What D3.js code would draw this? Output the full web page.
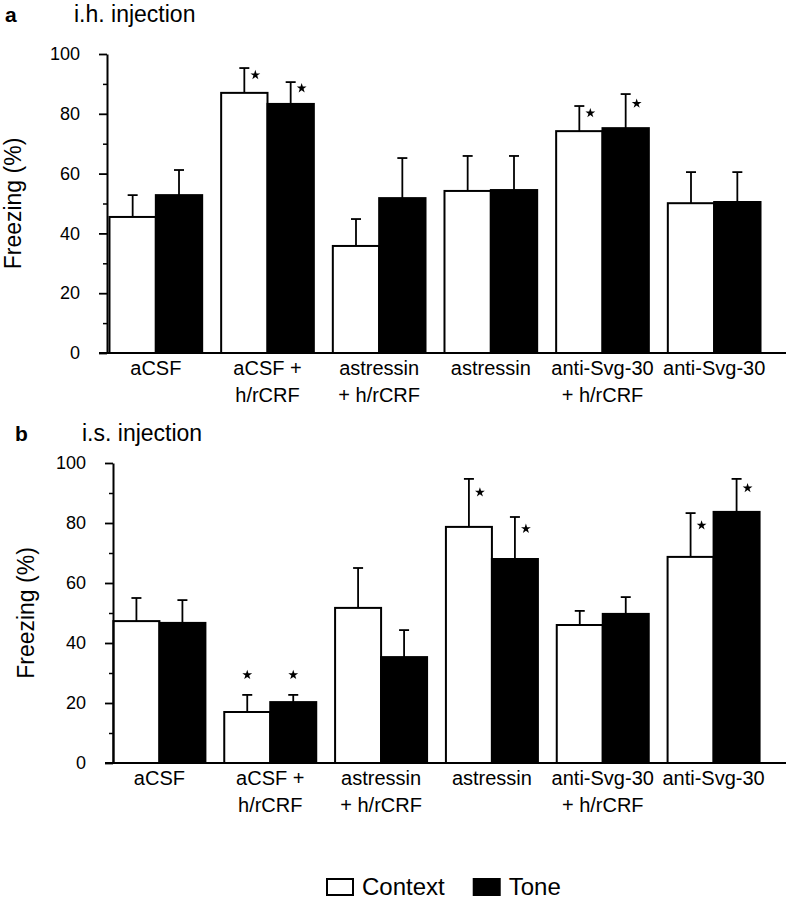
<!DOCTYPE html>
<html>
<head>
<meta charset="utf-8">
<script src="https://cdn.jsdelivr.net/npm/d3@7"></script>
<style>
  body { margin: 0; background: #fff; }
  text { font-family: "Liberation Sans", Arial, Helvetica, sans-serif; fill: #000; }
</style>
</head>
<body>
<svg id="fig" width="788" height="899"></svg>
<script>

// categories (line breaks as in the figure)
var categories = [ "aCSF", "aCSF +\nh/rCRF", "astressin\n+ h/rCRF", "astressin", "anti-Svg-30\n+ h/rCRF", "anti-Svg-30" ];
var seriesNames = [ "Context", "Tone" ];
var yTicks = [ 0, 20, 40, 60, 80, 100 ];
var yMinorTicks = [ 10, 30, 50, 70, 90 ];

// panel a : i.h. injection
var contextA    = [ 45.5, 87.0, 35.8, 54.2, 74.2, 50.1 ];
var contextErrA = [  7.3,  8.3,  9.0, 11.7,  8.4, 10.4 ];
var toneA       = [ 52.8, 83.3, 51.8, 54.5, 75.2, 50.5 ];
var toneErrA    = [  8.4,  7.3, 13.4, 11.4, 11.4, 10.0 ];
var sigContextA = [ 0, 1, 0, 0, 1, 0 ];
var sigToneA    = [ 0, 1, 0, 0, 1, 0 ];

// panel b : i.s. injection
var contextB    = [ 47.3, 17.0, 51.7, 78.7, 46.0, 68.7 ];
var contextErrB = [  7.7,  5.7, 13.3, 16.0,  4.7, 14.6 ];
var toneB       = [ 46.7, 20.3, 35.3, 68.0, 49.7, 83.7 ];
var toneErrB    = [  7.6,  2.4,  9.0, 14.0,  5.6, 11.0 ];
var sigContextB = [ 0, 1, 0, 1, 0, 1 ];
var sigToneB    = [ 0, 1, 0, 1, 0, 1 ];

var svg = d3.select( "#fig" );
var W = 788;
var fills = { Context : "#fff", Tone : "#000" };

function drawPanel( p ) {
  var g = svg.append( "g" );

  var x = d3.scaleBand().domain( categories )
    .range( [ p.left, p.right ] ).paddingInner( 0.17 ).paddingOuter( 0.085 );
  var xs = d3.scaleBand().domain( seriesNames ).range( [ 0, x.bandwidth() ] );
  var y = d3.scaleLinear().domain( [ 0, 100 ] ).range( [ p.bottom, p.top ] );

  // rows: one per bar
  var rows = [];
  categories.forEach( function( c, i ) {
    rows.push( { cat : c, s : "Context", v : p.context[ i ], e : p.contextErr[ i ], sig : p.sigContext[ i ] } );
    rows.push( { cat : c, s : "Tone", v : p.tone[ i ], e : p.toneErr[ i ], sig : p.sigTone[ i ] } );
  } );
  function cx( d ) { return x( d.cat ) + xs( d.s ) + xs.bandwidth() / 2; }

  // error bars (upper only)
  var eb = g.append( "g" ).attr( "stroke", "#000" ).attr( "stroke-width", 1.8 );
  eb.selectAll( "line.v" ).data( rows ).join( "line" ).attr( "class", "v" )
    .attr( "x1", cx ).attr( "x2", cx )
    .attr( "y1", function( d ) { return y( d.v ); } )
    .attr( "y2", function( d ) { return y( d.v + d.e ); } );
  eb.selectAll( "line.c" ).data( rows ).join( "line" ).attr( "class", "c" )
    .attr( "x1", function( d ) { return cx( d ) - 5; } )
    .attr( "x2", function( d ) { return cx( d ) + 5; } )
    .attr( "y1", function( d ) { return y( d.v + d.e ); } )
    .attr( "y2", function( d ) { return y( d.v + d.e ); } );

  // bars
  g.append( "g" ).selectAll( "rect" ).data( rows ).join( "rect" )
    .attr( "x", function( d ) { return x( d.cat ) + xs( d.s ); } )
    .attr( "y", function( d ) { return y( d.v ); } )
    .attr( "width", xs.bandwidth() )
    .attr( "height", function( d ) { return y( 0 ) - y( d.v ); } )
    .attr( "fill", function( d ) { return fills[ d.s ]; } )
    .attr( "stroke", "#000" ).attr( "stroke-width", 2 );

  // significance stars
  var star = d3.symbol( d3.symbolStar ).size( 30 );
  g.append( "g" ).selectAll( "path" ).data( rows.filter( function( d ) { return d.sig; } ) ).join( "path" )
    .attr( "d", star )
    .attr( "fill", "#000" )
    .attr( "transform", function( d ) {
      var top = y( d.v + d.e );
      var len = y( d.v ) - top;
      if( d.e < 6.5 ) {
        return "translate(" + cx( d ) + "," + ( top - 20 ) + ")";
      }
      return "translate(" + ( cx( d ) + 11 ) + "," + ( top + 0.28 * len ) + ")";
    } );

  // y axis
  var ax = g.append( "g" ).attr( "transform", "translate(" + p.axisX + ",0)" )
    .call( d3.axisLeft( y ).tickValues( yTicks ).tickSize( 8 ).tickSizeOuter( 0 ).tickPadding( 19 ) );
  ax.select( ".domain" ).attr( "stroke-width", 2 );
  ax.selectAll( ".tick line" ).attr( "stroke-width", 1.8 );
  ax.selectAll( ".tick text" ).attr( "font-size", 18 ).attr( "font-family", null );
  var minor = g.append( "g" ).attr( "transform", "translate(" + p.axisX + ",0)" )
    .call( d3.axisLeft( y ).tickValues( yMinorTicks ).tickSize( 4 ).tickFormat( "" ) );
  minor.select( ".domain" ).remove();
  minor.selectAll( ".tick line" ).attr( "stroke-width", 1.5 );

  // baseline
  g.append( "line" )
    .attr( "x1", p.axisX - 8 ).attr( "x2", W - 2 )
    .attr( "y1", y( 0 ) ).attr( "y2", y( 0 ) )
    .attr( "stroke", "#000" ).attr( "stroke-width", 2 );

  // category labels
  var lab = g.append( "g" ).selectAll( "text" ).data( categories ).join( "text" )
    .attr( "text-anchor", "middle" ).attr( "font-size", 20 )
    .attr( "y", y( 0 ) + 22 );
  lab.selectAll( "tspan" ).data( function( c ) { return c.split( "\n" ); } ).join( "tspan" )
    .attr( "x", function() { var c = d3.select( this.parentNode ).datum(); return x( c ) + x.bandwidth() / 2; } )
    .attr( "dy", function( d, i ) { return i == 0 ? 0 : 27; } )
    .text( function( d ) { return d; } );

  // y label
  g.append( "text" )
    .attr( "transform", "translate(" + p.ylabelX + "," + ( ( y( 0 ) + y( 100 ) ) / 2 ) + ") rotate(-90)" )
    .attr( "text-anchor", "middle" ).attr( "font-size", 23 )
    .text( "Freezing (%)" );

  // panel letter and title
  g.append( "text" ).attr( "x", p.letterX ).attr( "y", p.titleY )
    .attr( "font-size", 21 ).attr( "font-weight", "bold" ).text( p.letter );
  g.append( "text" ).attr( "x", p.titleX ).attr( "y", p.titleY )
    .attr( "font-size", 23 ).text( p.title );
}

drawPanel( {
  letter : "a", title : "i.h. injection",
  context : contextA, contextErr : contextErrA, tone : toneA, toneErr : toneErrA,
  sigContext : sigContextA, sigTone : sigToneA,
  left : 100, right : 770, axisX : 107, top : 54, bottom : 353,
  ylabelX : 21, letterX : 5, titleX : 74, titleY : 22
} );

drawPanel( {
  letter : "b", title : "i.s. injection",
  context : contextB, contextErr : contextErrB, tone : toneB, toneErr : toneErrB,
  sigContext : sigContextB, sigTone : sigToneB,
  left : 104, right : 769, axisX : 113, top : 463, bottom : 763,
  ylabelX : 34, letterX : 15, titleX : 82, titleY : 441
} );

// legend
var legend = svg.append( "g" ).attr( "transform", "translate(327,879)" );
var lx = 0;
seriesNames.forEach( function( s ) {
  var item = legend.append( "g" ).attr( "transform", "translate(" + lx + ",0)" );
  item.append( "rect" ).attr( "width", 26 ).attr( "height", 16 )
    .attr( "fill", fills[ s ] ).attr( "stroke", "#000" ).attr( "stroke-width", 2 );
  var t = item.append( "text" ).attr( "x", 35 ).attr( "y", 16 ).attr( "font-size", 24 ).text( s );
  lx += 35 + t.node().getComputedTextLength() + 29;
} );

</script>
</body>
</html>
